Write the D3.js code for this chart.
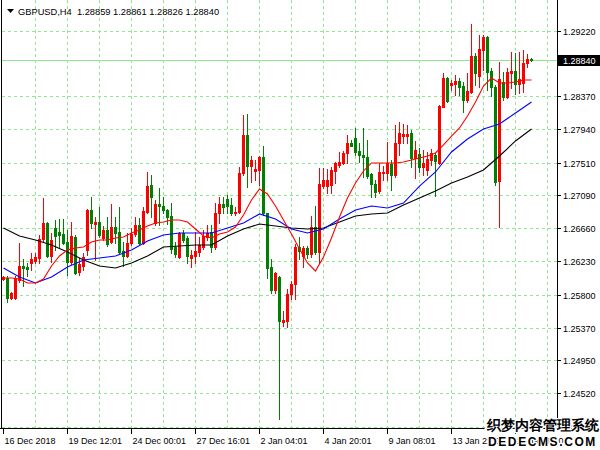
<!DOCTYPE html>
<html><head><meta charset="utf-8">
<script src="https://cdn.jsdelivr.net/npm/d3@7"></script>
<style>
html,body{margin:0;padding:0;background:#fff;overflow:hidden}
svg{display:block}
text{font-family:"Liberation Sans",Arial,sans-serif}
</style></head><body>
<svg id="c" width="600" height="450"></svg>
<script>
const symbol = "GBPUSD,H4";
const opens = [1.26002,1.26015,1.25756,1.25756,1.25989,1.26171,1.26158,1.26210,1.26235,1.26274,1.26521,1.26728,1.26300,1.26663,1.26611,1.26585,1.26482,1.26222,1.26546,1.26093,1.26171,1.26378,1.26896,1.26715,1.26741,1.26534,1.26637,1.26482,1.26676,1.26611,1.26365,1.26300,1.26469,1.26585,1.26702,1.26469,1.26870,1.27220,1.26728,1.26974,1.26948,1.26896,1.26819,1.26417,1.26287,1.26598,1.26534,1.26274,1.26300,1.26352,1.26417,1.26546,1.26611,1.26417,1.26858,1.26974,1.27039,1.26961,1.26858,1.26870,1.27376,1.27868,1.27467,1.27402,1.27415,1.27583,1.26858,1.26158,1.25860,1.26028,1.25445,1.25458,1.25808,1.25937,1.26417,1.26300,1.26404,1.26326,1.26676,1.26352,1.27207,1.27207,1.27220,1.27402,1.27480,1.27506,1.27635,1.27765,1.27830,1.27661,1.27609,1.27583,1.27363,1.27233,1.27143,1.27376,1.27376,1.27493,1.27350,1.27765,1.27855,1.27855,1.27894,1.27570,1.27622,1.27454,1.27415,1.27544,1.27609,1.27506,1.28231,1.28607,1.28516,1.28529,1.28568,1.28503,1.28322,1.28426,1.28892,1.28633,1.28970,1.29138,1.28698,1.28490,1.27272,1.28555,1.28361,1.28672,1.28698,1.28529,1.28542,1.28802,1.28859];
const highs = [1.26041,1.26041,1.25834,1.26041,1.26469,1.26261,1.26210,1.26339,1.26339,1.26572,1.27052,1.26741,1.26598,1.26767,1.26780,1.26780,1.26637,1.26741,1.26572,1.26274,1.26339,1.26909,1.27065,1.26806,1.26935,1.26689,1.26806,1.26974,1.26806,1.26935,1.26482,1.26598,1.26663,1.26806,1.26793,1.26935,1.27389,1.27350,1.27026,1.27182,1.27065,1.26909,1.26987,1.26482,1.26611,1.26637,1.26559,1.26378,1.26611,1.26546,1.26637,1.26702,1.26702,1.26987,1.27065,1.27065,1.27091,1.27052,1.26935,1.27454,1.28128,1.28141,1.27596,1.27544,1.27596,1.27726,1.26858,1.26261,1.26093,1.26041,1.25587,1.25873,1.25976,1.26456,1.26546,1.26430,1.26430,1.26819,1.26948,1.27441,1.27441,1.27428,1.27454,1.27518,1.27648,1.27661,1.27868,1.27804,1.27959,1.27765,1.27959,1.27804,1.27376,1.27285,1.27506,1.27467,1.27778,1.27544,1.27998,1.28037,1.28011,1.27998,1.27933,1.27791,1.27700,1.27674,1.27648,1.27687,1.27635,1.28257,1.28672,1.28620,1.28581,1.28646,1.28607,1.28555,1.28672,1.29307,1.28931,1.29164,1.29164,1.29151,1.28737,1.28516,1.28814,1.28685,1.28737,1.28944,1.28931,1.28944,1.28970,1.28918,1.28861];
const lows = [1.25989,1.25704,1.25743,1.25743,1.25963,1.25911,1.26041,1.26119,1.26210,1.26210,1.26482,1.26287,1.26222,1.26378,1.26404,1.26456,1.26054,1.26197,1.26067,1.26054,1.26119,1.26313,1.26663,1.26248,1.26546,1.26508,1.26430,1.26469,1.26469,1.26339,1.26171,1.26287,1.26443,1.26559,1.26456,1.26456,1.26858,1.26806,1.26702,1.26702,1.26858,1.26715,1.26339,1.26287,1.26274,1.26482,1.26210,1.26158,1.26210,1.26300,1.26391,1.26508,1.26352,1.26391,1.26728,1.26858,1.26858,1.26832,1.26832,1.26858,1.27350,1.27194,1.27259,1.27285,1.27220,1.26832,1.26015,1.25821,1.25821,1.24188,1.25393,1.25380,1.25743,1.25743,1.26261,1.26158,1.26274,1.26287,1.26326,1.26210,1.27182,1.27117,1.27117,1.27246,1.27454,1.27493,1.27506,1.27726,1.27609,1.27518,1.27324,1.27311,1.27065,1.27065,1.27117,1.27285,1.27285,1.27156,1.27324,1.27609,1.27765,1.27765,1.27454,1.27311,1.27389,1.27350,1.27350,1.27480,1.27078,1.27493,1.28231,1.28296,1.28452,1.28387,1.28387,1.28166,1.28296,1.28413,1.28516,1.28490,1.28711,1.28452,1.28374,1.27220,1.26676,1.28322,1.28348,1.28478,1.28400,1.28413,1.28426,1.28750,1.28826];
const closes = [1.26028,1.25756,1.25821,1.26015,1.26171,1.26145,1.26132,1.26261,1.26287,1.26521,1.26728,1.26300,1.26508,1.26559,1.26572,1.26469,1.26222,1.26559,1.26080,1.26197,1.26287,1.26896,1.26728,1.26741,1.26572,1.26637,1.26456,1.26676,1.26598,1.26352,1.26300,1.26469,1.26585,1.26702,1.26469,1.26883,1.27207,1.27065,1.26974,1.26948,1.26896,1.26806,1.26391,1.26326,1.26598,1.26508,1.26300,1.26313,1.26365,1.26443,1.26559,1.26598,1.26417,1.26858,1.26974,1.26935,1.26948,1.26858,1.26870,1.27376,1.27868,1.27467,1.27544,1.27428,1.27583,1.26858,1.26145,1.25860,1.26080,1.25458,1.25471,1.25808,1.25937,1.26417,1.26365,1.26404,1.26326,1.26676,1.26352,1.27233,1.27285,1.27285,1.27415,1.27506,1.27518,1.27635,1.27765,1.27726,1.27648,1.27609,1.27583,1.27337,1.27233,1.27130,1.27389,1.27389,1.27506,1.27350,1.27765,1.27894,1.27881,1.27881,1.27570,1.27674,1.27454,1.27506,1.27557,1.27635,1.27531,1.28244,1.28607,1.28309,1.28542,1.28568,1.28490,1.28322,1.28439,1.28892,1.28672,1.28983,1.29138,1.28685,1.28490,1.27259,1.28594,1.28361,1.28685,1.28698,1.28529,1.28594,1.28802,1.28853,1.28840];

// moving averages (fast: every 2nd bar, others: every 4th bar)
const maFastStep = 2;
const maFast = [1.26015,1.26015,1.26002,1.25950,1.25950,1.26002,1.26171,1.26300,1.26378,1.26404,1.26417,1.26482,1.26508,1.26508,1.26534,1.26546,1.26598,1.26637,1.26689,1.26728,1.26741,1.26767,1.26767,1.26741,1.26650,1.26559,1.26534,1.26585,1.26611,1.26676,1.26832,1.27026,1.27169,1.27104,1.26948,1.26767,1.26585,1.26391,1.26210,1.26106,1.26287,1.26534,1.26806,1.27052,1.27246,1.27402,1.27506,1.27506,1.27506,1.27506,1.27518,1.27544,1.27570,1.27596,1.27635,1.27739,1.27855,1.27959,1.28115,1.28296,1.28503,1.28607,1.28542,1.28542,1.28555,1.28581,1.28581];
const maSlowStep = 4;
const maMid = [1.26145,1.26028,1.25950,1.26028,1.26158,1.26248,1.26274,1.26300,1.26378,1.26495,1.26572,1.26598,1.26598,1.26598,1.26663,1.26728,1.26845,1.26780,1.26650,1.26598,1.26650,1.26780,1.26896,1.26948,1.26922,1.26987,1.27207,1.27389,1.27648,1.27817,1.27946,1.28011,1.28154,1.28296];
const maSlow = [1.26663,1.26559,1.26508,1.26443,1.26352,1.26248,1.26171,1.26145,1.26210,1.26300,1.26417,1.26430,1.26443,1.26443,1.26559,1.26650,1.26715,1.26689,1.26663,1.26650,1.26663,1.26741,1.26819,1.26845,1.26858,1.26961,1.27052,1.27143,1.27246,1.27324,1.27415,1.27596,1.27791,1.27946];

const priceTicks = [1.29220,1.28370,1.27940,1.27510,1.27090,1.26660,1.26230,1.25800,1.25370,1.24950,1.24520,1.24090];
const timeLabels = ["16 Dec 2018","19 Dec 12:01","24 Dec 00:01","27 Dec 16:01","2 Jan 04:01","4 Jan 20:01","9 Jan 08:01","13 Jan 22:00","16 Jan 12:01"];
const timeLabelStep = 16;
const gridStep = 8;

const W = 600, H = 450, plotR = 557, plotB = 428;
const svg = d3.select("#c");
const x = d3.scaleLinear().domain([0, 100]).range([3.5, 403.5]);
const y = d3.scaleLinear().domain([1.24071, 1.29618]).range([plotB, 0]);
const fmt = d3.format(".5f");
const Y = v => Math.round(y(v));

svg.append("rect").attr("width", W).attr("height", H).attr("fill", "#fff");
svg.append("clipPath").attr("id","clip").append("rect").attr("x",2).attr("y",0).attr("width",plotR-2).attr("height",plotB);

const grid = svg.append("g").attr("stroke", "#8fe88f").attr("stroke-width", 1).attr("stroke-dasharray", "3,3");
priceTicks.forEach(t => {
  grid.append("line").attr("x1", 2).attr("x2", plotR).attr("y1", Y(t) + 0.5).attr("y2", Y(t) + 0.5);
});
for (let b = gridStep; x(b) < plotR; b += gridStep) {
  grid.append("line").attr("x1", x(b)).attr("x2", x(b)).attr("y1", 0).attr("y2", plotB);
}

// current price line
const last = closes.length - 1;
svg.append("line").attr("x1", 2).attr("x2", plotR).attr("y1", Y(closes[last]) + 0.5).attr("y2", Y(closes[last]) + 0.5)
  .attr("stroke", "#8fe88f").attr("stroke-width", 1);

const plot = svg.append("g").attr("clip-path", "url(#clip)");
const bars = d3.range(opens.length);
const col = i => closes[i] > opens[i] ? "#ff0000" : "#008000";
plot.append("g").selectAll("rect.w").data(bars).join("rect")
  .attr("x", i => x(i) - 0.5).attr("width", 1)
  .attr("y", i => Y(highs[i])).attr("height", i => Math.max(1, Y(lows[i]) - Y(highs[i]) + 1))
  .attr("fill", col);
plot.append("g").selectAll("rect.b").data(bars).join("rect")
  .attr("x", i => x(i) - 1.5).attr("width", 3)
  .attr("y", i => Math.min(Y(opens[i]), Y(closes[i])))
  .attr("height", i => Math.max(1, Math.abs(Y(opens[i]) - Y(closes[i])) + 1))
  .attr("fill", col);

function maLine(vals, step, color) {
  const line = d3.line().x((d, k) => x(k * step)).y(d => y(d));
  plot.append("path").attr("d", line(vals)).attr("fill", "none").attr("stroke", color).attr("stroke-width", 1.1);
}
maLine(maSlow, maSlowStep, "#000000");
maLine(maMid, maSlowStep, "#0000ff");
maLine(maFast, maFastStep, "#ff0000");

// frame
svg.append("line").attr("x1", 1.5).attr("x2", 1.5).attr("y1", 0).attr("y2", plotB).attr("stroke", "#000");
svg.append("line").attr("x1", plotR + 0.5).attr("x2", plotR + 0.5).attr("y1", 0).attr("y2", plotB + 1).attr("stroke", "#000");
svg.append("line").attr("x1", 0).attr("x2", W).attr("y1", plotB + 0.5).attr("y2", plotB + 0.5).attr("stroke", "#000");

// price axis
const pa = svg.append("g").attr("font-size", "9px").attr("fill", "#000");
priceTicks.forEach(t => {
  pa.append("line").attr("x1", plotR).attr("x2", plotR + 4).attr("y1", Y(t) + 0.5).attr("y2", Y(t) + 0.5).attr("stroke", "#000");
  pa.append("text").attr("x", 563).attr("y", Y(t) + 3.5).text(fmt(t));
});
// current price label
svg.append("rect").attr("x", plotR + 1).attr("y", Y(closes[last]) - 5).attr("width", W - plotR - 1).attr("height", 11).attr("fill", "#000");
svg.append("text").attr("x", 563).attr("y", Y(closes[last]) + 3.5).attr("font-size", "9px").attr("fill", "#fff").text(fmt(closes[last]));

// time axis
const ta = svg.append("g").attr("font-size", "9px").attr("fill", "#000");
timeLabels.forEach((lab, k) => {
  const xx = x(k * timeLabelStep);
  ta.append("line").attr("x1", xx).attr("x2", xx).attr("y1", plotB).attr("y2", plotB + 6).attr("stroke", "#000");
  ta.append("text").attr("x", xx + 1).attr("y", 444).text(lab);
});

// title
svg.append("path").attr("d", "M7,9 L14,9 L10.5,13 Z").attr("fill", "#000");
svg.append("text").attr("x", 18).attr("y", 15).attr("font-size", "9.3px").attr("fill", "#000")
  .style("white-space", "pre")
  .text(symbol + "  " + [opens[last], highs[last], lows[last], closes[last]].map(fmt).join(" "));

// watermark
svg.append("text").attr("x", 487).attr("y", 430).attr("font-family", "'Noto Sans CJK SC'").attr("font-weight", "bold")
  .attr("font-size", "13.5px").attr("fill", "#000").attr("stroke", "#fff").attr("stroke-width", 2.5)
  .attr("paint-order", "stroke").text("织梦内容管理系统");
svg.append("text").attr("x", 488).attr("y", 446).attr("font-family", "'DejaVu Sans'").attr("font-weight", "bold")
  .attr("font-size", "12px").attr("letter-spacing", "1.6px").attr("fill", "#000").attr("stroke", "#fff").attr("stroke-width", 2.5)
  .attr("paint-order", "stroke").text("DEDECMS.COM");
</script>
</body></html>
